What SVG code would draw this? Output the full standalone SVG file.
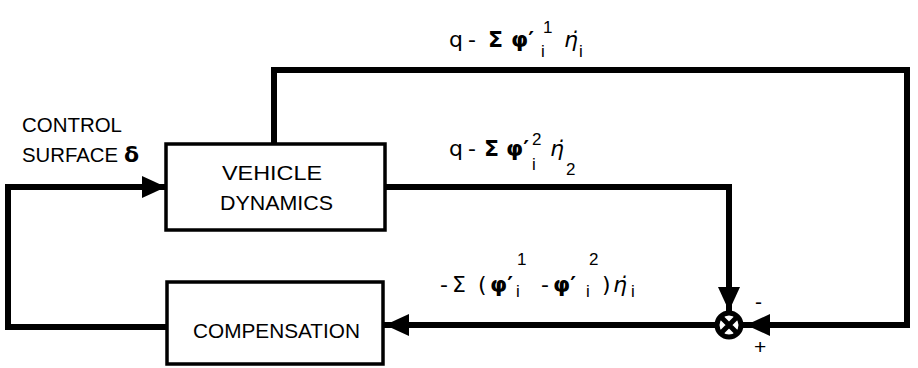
<svg xmlns="http://www.w3.org/2000/svg" width="918" height="368" viewBox="0 0 918 368">
<style>
.box{fill:#fff;stroke:#000;stroke-width:3.5}
.ln{fill:none;stroke:#000;stroke-width:6;stroke-linejoin:miter;stroke-linecap:square}
.t{font-family:"Liberation Sans","DejaVu Sans",sans-serif;font-size:21px;fill:#000}
.m{font-family:"DejaVu Sans","Liberation Sans",sans-serif;font-size:22px;fill:#000}
.s{font-family:"Liberation Sans","DejaVu Sans",sans-serif;font-size:17px;fill:#000}
.b{font-weight:bold}
.i{font-style:italic}
</style>
<defs>
<marker id="ah" viewBox="0 0 24 22" refX="24" refY="11" markerWidth="24" markerHeight="22" markerUnits="userSpaceOnUse" orient="auto">
<path d="M0,0 L24,11 L0,22 z" fill="#000"/>
</marker>
</defs>
<g id="connectors">
<path class="ln" d="M274,144 V70 H907 V325 H746" marker-end="url(#ah)"/>
<path class="ln" d="M385,187 H729 V311" marker-end="url(#ah)"/>
<path class="ln" d="M716,325 H385" marker-end="url(#ah)"/>
<path class="ln" d="M167,327 H8 V187 H166" marker-end="url(#ah)"/>
</g>
<g id="vehicle">
<rect class="box" x="166" y="144" width="219" height="86"/>
<text class="t" x="222" y="180" textLength="100" lengthAdjust="spacingAndGlyphs">VEHICLE</text>
<text class="t" x="220" y="210" textLength="113" lengthAdjust="spacingAndGlyphs">DYNAMICS</text>
</g>
<g id="compensation">
<rect class="box" x="167" y="282" width="216" height="82"/>
<text class="t" x="193" y="338" textLength="167" lengthAdjust="spacingAndGlyphs">COMPENSATION</text>
</g>
<g id="junction">
<circle cx="729" cy="325" r="12" fill="#fff" stroke="#000" stroke-width="5"/>
<path d="M721,317 L737,333 M737,317 L721,333" stroke="#000" stroke-width="5"/>
<text class="t" x="755" y="309">-</text>
<text class="t" x="754" y="354">+</text>
</g>
<g id="labels">
<text class="t" x="22" y="132" textLength="100" lengthAdjust="spacingAndGlyphs">CONTROL</text>
<text class="t" x="22" y="162" textLength="96" lengthAdjust="spacingAndGlyphs">SURFACE</text>
<text class="m b" x="124" y="162">δ</text>

<text class="m" x="449" y="47">q</text>
<text class="m" x="468" y="47">-</text>
<text class="m b" x="488" y="47">Σ</text>
<text class="m b" x="511" y="47">φ′</text>
<text class="s" x="543" y="33">1</text>
<text class="s" x="541" y="57">i</text>
<text class="m i" x="564" y="47">η̇</text>
<text class="s" x="579" y="57">i</text>

<text class="m" x="449" y="156">q</text>
<text class="m" x="468" y="156">-</text>
<text class="m b" x="484" y="156">Σ</text>
<text class="m b" x="506" y="156">φ′</text>
<text class="s" x="532" y="145">2</text>
<text class="s" x="532" y="170">i</text>
<text class="m i" x="550" y="156">η̇</text>
<text class="s" x="566" y="175">2</text>

<text class="m" x="440" y="292">-</text>
<text class="m" x="452" y="292">Σ</text>
<text class="m" x="478" y="292">(</text>
<text class="m b" x="490" y="292">φ′</text>
<text class="s" x="517" y="265">1</text>
<text class="s" x="516" y="297">i</text>
<text class="m" x="541" y="292">-</text>
<text class="m b" x="553" y="292">φ′</text>
<text class="s" x="589" y="265">2</text>
<text class="s" x="586" y="297">i</text>
<text class="m" x="602" y="292">)</text>
<text class="m i" x="613" y="292">η̇</text>
<text class="s" x="631" y="297">i</text>
</g>
</svg>
